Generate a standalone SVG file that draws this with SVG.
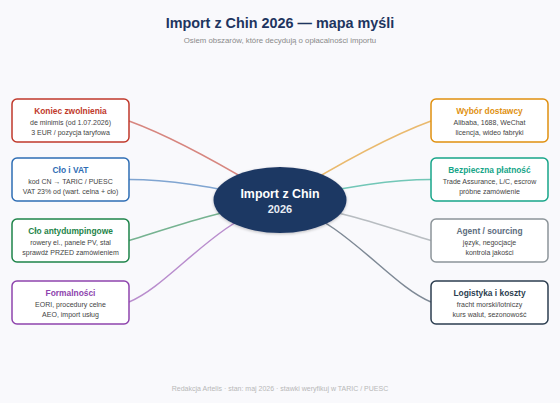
<svg xmlns="http://www.w3.org/2000/svg" width="560" height="403" viewBox="0 0 560 403">
<defs>
<style>
.bg{fill:#f9f9fc}
.box{fill:#ffffff;stroke-width:1.5}
.t{font-family:"Liberation Sans",Arial,sans-serif;text-anchor:middle}
.bt{font-size:8.4px;font-weight:bold}
.bd{font-size:7px;fill:#444}
.conn{fill:none;stroke-width:1.5;stroke-opacity:0.6}
</style>
<filter id="sh" x="-20%" y="-20%" width="140%" height="150%">
<feGaussianBlur in="SourceAlpha" stdDeviation="1.5"/>
<feOffset dy="1" result="b"/>
<feComponentTransfer><feFuncA type="linear" slope="0.25"/></feComponentTransfer>
<feMerge><feMergeNode/><feMergeNode in="SourceGraphic"/></feMerge>
</filter>
</defs>
<rect class="bg" x="0" y="0" width="560" height="403"/>
<g id="title">
<text class="t" x="280" y="28" style="font-size:14.4px;font-weight:bold;fill:#1e3560">Import z Chin 2026 — mapa myśli</text>
<text class="t" x="280" y="43" style="font-size:7.8px;fill:#8a8a8a">Osiem obszarów, które decydują o opłacalności importu</text>
</g>
<g id="connectors">
<path class="conn" stroke="#c0392b" d="M129,121 C170,136 220,163 280,200"/>
<path class="conn" stroke="#2e6db4" d="M129,179.5 C170,179.5 205,186 280,200"/>
<path class="conn" stroke="#1e8449" d="M129,240.5 C170,228 215,212 280,200"/>
<path class="conn" stroke="#8e44ad" d="M129,302 C170,285 210,225 280,200"/>
<path class="conn" stroke="#e0900f" d="M431,121 C390,136 340,163 280,200"/>
<path class="conn" stroke="#17a589" d="M431,179.5 C390,179.5 355,186 280,200"/>
<path class="conn" stroke="#8c9499" d="M431,240.5 C390,228 345,212 280,200"/>
<path class="conn" stroke="#2c3e50" d="M431,302 C390,285 350,225 280,200"/>
</g>
<g id="center">
<ellipse cx="280" cy="200" rx="66.5" ry="33" fill="#1f3864" filter="url(#sh)"/>
<text class="t" x="280" y="198" style="font-size:12.4px;font-weight:bold;fill:#ffffff">Import z Chin</text>
<text class="t" x="280" y="213" style="font-size:11px;font-weight:bold;fill:#e8ecf4">2026</text>
</g>
<g id="n-koniec">
<rect class="box" x="12" y="99" width="117" height="43" rx="5" stroke="#c0392b"/>
<text class="t bt" x="70.5" y="114" fill="#c0392b">Koniec zwolnienia</text>
<text class="t bd" x="70.5" y="124.5">de minimis (od 1.07.2026)</text>
<text class="t bd" x="70.5" y="134.5">3 EUR / pozycja taryfowa</text>
</g>
<g id="n-clo-vat">
<rect class="box" x="12" y="158" width="117" height="43" rx="5" stroke="#2e6db4"/>
<text class="t bt" x="70.5" y="173" fill="#2e6db4">Cło i VAT</text>
<text class="t bd" x="70.5" y="183.5">kod CN → TARIC / PUESC</text>
<text class="t bd" x="70.5" y="193.5">VAT 23% od (wart. celna + cło)</text>
</g>
<g id="n-antydumping">
<rect class="box" x="12" y="219" width="117" height="43" rx="5" stroke="#1e8449"/>
<text class="t bt" x="70.5" y="234" fill="#1e8449">Cło antydumpingowe</text>
<text class="t bd" x="70.5" y="244.5">rowery el., panele PV, stal</text>
<text class="t bd" x="70.5" y="254.5">sprawdź PRZED zamówieniem</text>
</g>
<g id="n-formalnosci">
<rect class="box" x="12" y="281" width="117" height="43" rx="5" stroke="#8e44ad"/>
<text class="t bt" x="70.5" y="296" fill="#8e44ad">Formalności</text>
<text class="t bd" x="70.5" y="306.5">EORI, procedury celne</text>
<text class="t bd" x="70.5" y="316.5">AEO, import usług</text>
</g>
<g id="n-dostawca">
<rect class="box" x="431" y="99" width="117" height="43" rx="5" stroke="#e0900f"/>
<text class="t bt" x="489.5" y="114" fill="#e0900f">Wybór dostawcy</text>
<text class="t bd" x="489.5" y="124.5">Alibaba, 1688, WeChat</text>
<text class="t bd" x="489.5" y="134.5">licencja, wideo fabryki</text>
</g>
<g id="n-platnosc">
<rect class="box" x="431" y="158" width="117" height="43" rx="5" stroke="#17a589"/>
<text class="t bt" x="489.5" y="173" fill="#17a589">Bezpieczna płatność</text>
<text class="t bd" x="489.5" y="183.5">Trade Assurance, L/C, escrow</text>
<text class="t bd" x="489.5" y="193.5">próbne zamówienie</text>
</g>
<g id="n-agent">
<rect class="box" x="431" y="219" width="117" height="43" rx="5" stroke="#8c9499"/>
<text class="t bt" x="489.5" y="234" fill="#5d6d7e">Agent / sourcing</text>
<text class="t bd" x="489.5" y="244.5">język, negocjacje</text>
<text class="t bd" x="489.5" y="254.5">kontrola jakości</text>
</g>
<g id="n-logistyka">
<rect class="box" x="431" y="281" width="117" height="43" rx="5" stroke="#2c3e50"/>
<text class="t bt" x="489.5" y="296" fill="#2c3e50">Logistyka i koszty</text>
<text class="t bd" x="489.5" y="306.5">fracht morski/lotniczy</text>
<text class="t bd" x="489.5" y="316.5">kurs walut, sezonowość</text>
</g>
<g id="footer">
<text class="t" x="280" y="391" style="font-size:7px;fill:#b8b8b8">Redakcja Artelis · stan: maj 2026 · stawki weryfikuj w TARIC / PUESC</text>
</g>
</svg>
